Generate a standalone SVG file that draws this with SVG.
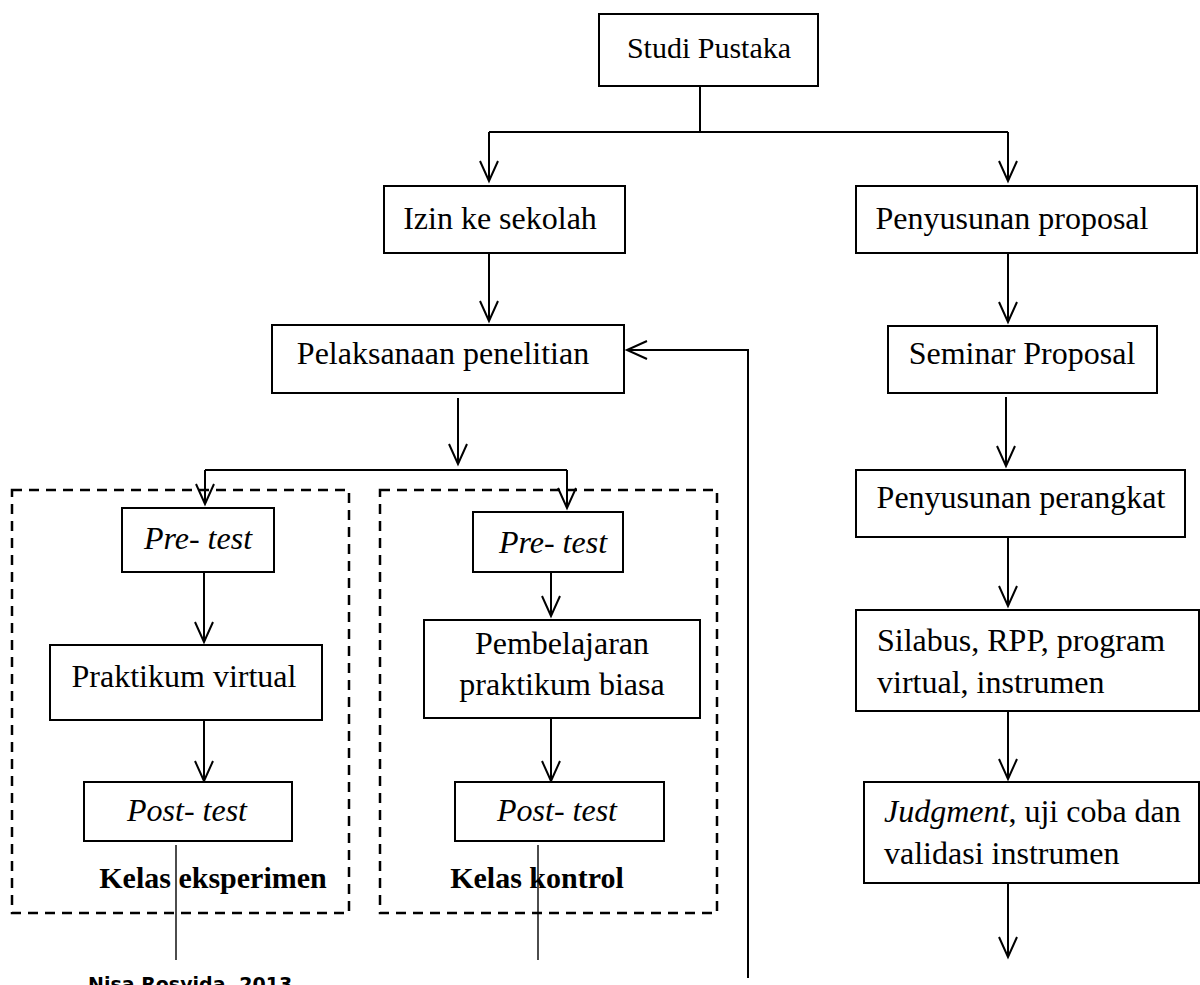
<svg xmlns="http://www.w3.org/2000/svg" width="1200" height="985" viewBox="0 0 1200 985">
<defs>
<style>
.box{fill:#fff;stroke:#000;stroke-width:2}
.dash{fill:none;stroke:#000;stroke-width:2.5;stroke-dasharray:10 7}
.ln{fill:none;stroke:#000;stroke-width:2}
.thin{fill:none;stroke:#000;stroke-width:1.4}
.t{font-family:"Liberation Serif","Times New Roman",serif;font-size:32px;fill:#000}
.c{text-anchor:middle}
.i{font-style:italic}
.b{font-weight:bold;font-size:30px}
</style>
<marker id="ah" markerUnits="userSpaceOnUse" markerWidth="24" markerHeight="20" refX="21" refY="10" orient="auto">
<path d="M1,1 L21,10 L1,19" fill="none" stroke="#000" stroke-width="2"/>
</marker>
</defs>
<rect width="1200" height="985" fill="#fff"/>

<g id="groups">
<rect x="12" y="490" width="337" height="423" class="dash"/>
<rect x="380" y="490" width="337" height="423" class="dash"/>
</g>

<g id="connectors">
<path class="ln" d="M700,86 V132 M489,132 H1008"/>
<path class="ln" d="M489,132 V181" marker-end="url(#ah)"/>
<path class="ln" d="M1008,132 V181" marker-end="url(#ah)"/>
<path class="ln" d="M489,253 V321" marker-end="url(#ah)"/>
<path class="ln" d="M748,978 V350 H627" marker-end="url(#ah)"/>
<path class="ln" d="M458,398 V464" marker-end="url(#ah)"/>
<path class="ln" d="M205,470 H567"/>
<path class="ln" d="M205,470 V504" marker-end="url(#ah)"/>
<path class="ln" d="M567,470 V508" marker-end="url(#ah)"/>
<path class="ln" d="M204,572 V642" marker-end="url(#ah)"/>
<path class="ln" d="M204,720 V781" marker-end="url(#ah)"/>
<path class="ln" d="M551,572 V616" marker-end="url(#ah)"/>
<path class="ln" d="M551,718 V781" marker-end="url(#ah)"/>
<path class="thin" d="M176,845 V960"/>
<path class="thin" d="M538,845 V960"/>
<path class="ln" d="M1008,253 V322" marker-end="url(#ah)"/>
<path class="ln" d="M1006,397 V466" marker-end="url(#ah)"/>
<path class="ln" d="M1008,537 V606" marker-end="url(#ah)"/>
<path class="ln" d="M1008,711 V779" marker-end="url(#ah)"/>
<path class="ln" d="M1008,883 V957" marker-end="url(#ah)"/>
</g>

<g id="studi-pustaka">
<rect x="599" y="14" width="219" height="72" class="box"/>
<text x="709" y="58" class="t c" style="font-size:30px">Studi Pustaka</text>
</g>
<g id="izin">
<rect x="384" y="186" width="241" height="67" class="box"/>
<text x="500" y="229" class="t c">Izin ke sekolah</text>
</g>
<g id="penyusunan-proposal">
<rect x="856" y="186" width="341" height="67" class="box"/>
<text x="1012" y="229" class="t c">Penyusunan proposal</text>
</g>
<g id="pelaksanaan">
<rect x="272" y="325" width="352" height="68" class="box"/>
<text x="443" y="364" class="t c">Pelaksanaan penelitian</text>
</g>
<g id="seminar">
<rect x="888" y="326" width="269" height="67" class="box"/>
<text x="1022" y="364" class="t c">Seminar Proposal</text>
</g>
<g id="perangkat">
<rect x="856" y="470" width="329" height="67" class="box"/>
<text x="1021" y="508" class="t c">Penyusunan perangkat</text>
</g>
<g id="silabus">
<rect x="856" y="610" width="343" height="101" class="box"/>
<text x="877" y="651" class="t">Silabus, RPP, program</text>
<text x="877" y="693" class="t">virtual, instrumen</text>
</g>
<g id="judgment">
<rect x="864" y="782" width="335" height="101" class="box"/>
<text x="884" y="822" class="t"><tspan class="i">Judgment</tspan>, uji coba dan</text>
<text x="884" y="864" class="t">validasi instrumen</text>
</g>
<g id="pretest-eksperimen">
<rect x="122" y="508" width="152" height="64" class="box"/>
<text x="198" y="549" class="t c i">Pre- test</text>
</g>
<g id="praktikum-virtual">
<rect x="50" y="645" width="272" height="75" class="box"/>
<text x="184" y="687" class="t c">Praktikum virtual</text>
</g>
<g id="posttest-eksperimen">
<rect x="84" y="782" width="208" height="59" class="box"/>
<text x="187" y="821" class="t c i">Post- test</text>
</g>
<g id="kelas-eksperimen">
<text x="213" y="888" class="t c b">Kelas eksperimen</text>
</g>
<g id="pretest-kontrol">
<rect x="473" y="512" width="150" height="60" class="box"/>
<text x="553" y="553" class="t c i">Pre- test</text>
</g>
<g id="pembelajaran">
<rect x="424" y="620" width="276" height="98" class="box"/>
<text x="562" y="654" class="t c">Pembelajaran</text>
<text x="562" y="695" class="t c">praktikum biasa</text>
</g>
<g id="posttest-kontrol">
<rect x="455" y="782" width="209" height="59" class="box"/>
<text x="557" y="821" class="t c i">Post- test</text>
</g>
<g id="kelas-kontrol">
<text x="537" y="888" class="t c b">Kelas kontrol</text>
</g>
<g id="source">
<text x="88" y="991" style="font-family:'DejaVu Sans',Verdana,sans-serif;font-size:19px;font-weight:bold;fill:#000">Nisa Rosyida, 2013</text>
</g>
</svg>
